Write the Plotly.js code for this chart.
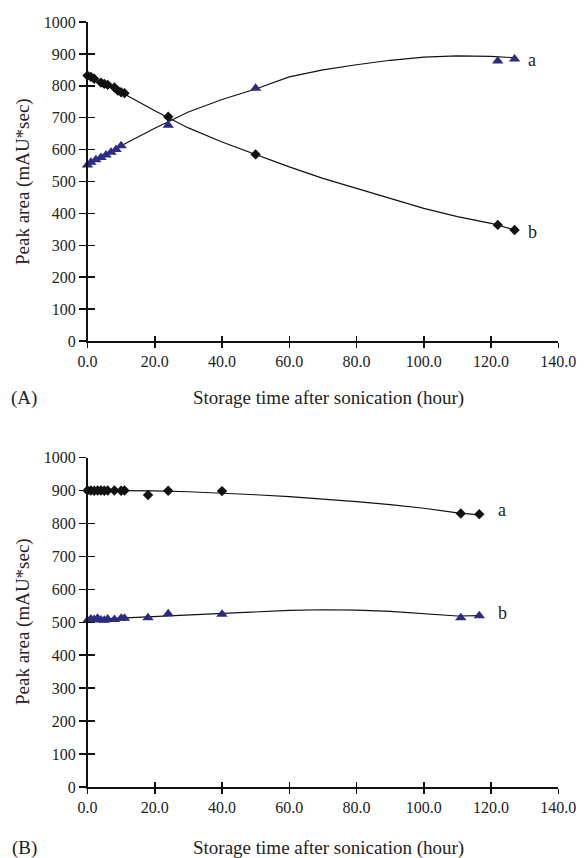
<!DOCTYPE html>
<html>
<head>
<meta charset="utf-8">
<script src="https://cdn.plot.ly/plotly-3.0.1.min.js"></script>
<style>html,body{margin:0;padding:0;background:#fff;}#chart{width:584px;height:858px;}</style>
</head>
<body>
<div id="chart"></div>
<script>
// ---- Panel A data ----
const topTriT = [0, 1, 2.5, 4, 5.5, 7, 8.5, 10, 24, 50, 122, 127];
const topTriV = [552, 560, 568, 575, 583, 592, 600, 612, 676, 792, 878, 884];
const topDiaT = [0, 1, 2, 4, 5, 6, 8, 9, 10, 11, 24, 50, 122, 127];
const topDiaV = [832, 828, 822, 810, 806, 803, 795, 785, 780, 777, 703, 585, 364, 348];
const topTrendT = [0, 10, 20, 30, 40, 50, 60, 70, 80, 90, 100, 110, 120, 127];
const topTrendA = [552, 612, 667, 718, 757, 790, 828, 850, 866, 880, 890, 894, 892, 888];
const topTrendB = [834, 780, 722, 668, 624, 585, 546, 510, 478, 446, 416, 390, 369, 348];

// ---- Panel B data ----
const botDiaT = [0, 1, 2, 3, 4, 5, 6, 8, 10, 11, 18, 24, 40, 111, 116.5];
const botDiaV = [900, 900, 899, 900, 900, 899, 900, 900, 899, 900, 886, 899, 898, 830, 828];
const botTriT = [0, 1, 2, 3, 4, 5, 6, 8, 10, 11, 18, 24, 40, 111, 116.5];
const botTriV = [505, 510, 508, 512, 507, 506, 510, 508, 512, 512, 514, 526, 524, 514, 520];
const botTrendT = [0, 10, 20, 30, 40, 50, 60, 70, 80, 90, 100, 110, 116.5];
const botTrendA = [900, 900, 899, 896, 892, 887, 881, 874, 866, 857, 846, 832, 826];
const botTrendB = [508, 513, 518, 523, 528, 532, 536, 538, 537, 533, 527, 519, 520];

const xTicks = [0, 20, 40, 60, 80, 100, 120, 140];
const yTicks = [0, 100, 200, 300, 400, 500, 600, 700, 800, 900, 1000];
const xTitle = 'Storage time after sonication (hour)';
const yTitle = 'Peak area (mAU*sec)';

const FONT = "'Liberation Serif', 'Times New Roman', Times, serif";
const triColor = '#2b2b82';
const lineStyle = {color: '#111', width: 1.2};

function line(x, y, xa, ya) {
  return {x: x, y: y, xaxis: xa, yaxis: ya, mode: 'lines', line: lineStyle,
          hoverinfo: 'skip', showlegend: false, cliponaxis: false};
}
function pts(x, y, xa, ya, sym, col, sz) {
  return {x: x, y: y, xaxis: xa, yaxis: ya, mode: 'markers',
          marker: {symbol: sym, color: col, size: sz, line: {width: 0}},
          showlegend: false, cliponaxis: false};
}

const data = [
  line(topTrendT, topTrendA, 'x', 'y'),
  line(topTrendT, topTrendB, 'x', 'y'),
  pts(topDiaT, topDiaV, 'x', 'y', 'diamond', '#111', 8),
  pts(topTriT, topTriV, 'x', 'y', 'triangle-up', triColor, 10),
  line(botTrendT, botTrendA, 'x2', 'y2'),
  line(botTrendT, botTrendB, 'x2', 'y2'),
  pts(botDiaT, botDiaV, 'x2', 'y2', 'diamond', '#111', 8),
  pts(botTriT, botTriV, 'x2', 'y2', 'triangle-up', triColor, 10),
  {x: [null], y: [null], xaxis: 'x3', yaxis: 'y3', mode: 'markers', showlegend: false, hoverinfo: 'skip'},
  {x: [null], y: [null], xaxis: 'x4', yaxis: 'y4', mode: 'markers', showlegend: false, hoverinfo: 'skip'}
];

const xd = [87.5 / 584, 558.3 / 584];
const topD = [(858 - 341) / 858, (858 - 22) / 858];
const botD = [(858 - 787) / 858, (858 - 457.5) / 858];

function xAxis(anchor, dom, inner) {
  return {
    domain: xd, anchor: anchor, range: [0, 140], autorange: false,
    tickmode: 'array', tickvals: xTicks, ticktext: xTicks.map(v => v.toFixed(1)),
    ticks: inner ? 'inside' : 'outside', ticklen: 5, tickwidth: 1.5, tickcolor: '#111',
    showticklabels: !inner, showline: !inner, linecolor: '#111', linewidth: 1.5,
    showgrid: false, zeroline: false,
    tickfont: {family: FONT, size: 16, color: '#222'}, fixedrange: true
  };
}
function yAxis(anchor, dom, inner) {
  return {
    domain: dom, anchor: anchor, range: [0, 1000], autorange: false,
    tickmode: 'array', tickvals: yTicks,
    ticks: inner ? 'inside' : 'outside', ticklen: 7, tickwidth: 1.5, tickcolor: '#111',
    showticklabels: !inner, showline: !inner, linecolor: '#111', linewidth: 1.5,
    showgrid: false, zeroline: false,
    tickfont: {family: FONT, size: 16, color: '#222'}, fixedrange: true
  };
}

const xa3 = xAxis('y3', topD, true); xa3.overlaying = 'x';
const ya3 = yAxis('x3', topD, true); ya3.overlaying = 'y';
const xa4 = xAxis('y4', botD, true); xa4.overlaying = 'x2';
const ya4 = yAxis('x4', botD, true); ya4.overlaying = 'y2';

function ann(text, x, y, opts) {
  return Object.assign({text: text, x: x, y: y, xref: 'paper', yref: 'paper',
    xanchor: 'center', yanchor: 'middle', showarrow: false,
    font: {family: FONT, size: 19, color: '#222'}}, opts || {});
}
const px = v => v / 584;
const py = v => 1 - v / 858;
const lblFont = {family: FONT, size: 18, color: '#222'};

const layout = {
  width: 584, height: 858,
  margin: {l: 0, r: 0, t: 0, b: 0},
  paper_bgcolor: '#fff', plot_bgcolor: 'rgba(0,0,0,0)',
  showlegend: false,
  xaxis: xAxis('y', topD, false),
  yaxis: yAxis('x', topD, false),
  xaxis2: xAxis('y2', botD, false),
  yaxis2: yAxis('x2', botD, false),
  xaxis3: xa3, yaxis3: ya3, xaxis4: xa4, yaxis4: ya4,
  annotations: [
    ann(yTitle, px(23), py(182), {textangle: -90}),
    ann(yTitle, px(23), py(622), {textangle: -90}),
    ann(xTitle, px(328), py(398)),
    ann(xTitle, px(328), py(848)),
    ann('(A)', px(24), py(398)),
    ann('(B)', px(24), py(848)),
    ann('a', px(532), py(60), {font: lblFont}),
    ann('b', px(532), py(232), {font: lblFont}),
    ann('a', px(502), py(510), {font: lblFont}),
    ann('b', px(502), py(613), {font: lblFont})
  ]
};

Plotly.newPlot('chart', data, layout, {displayModeBar: false, staticPlot: true});
</script>
</body>
</html>
